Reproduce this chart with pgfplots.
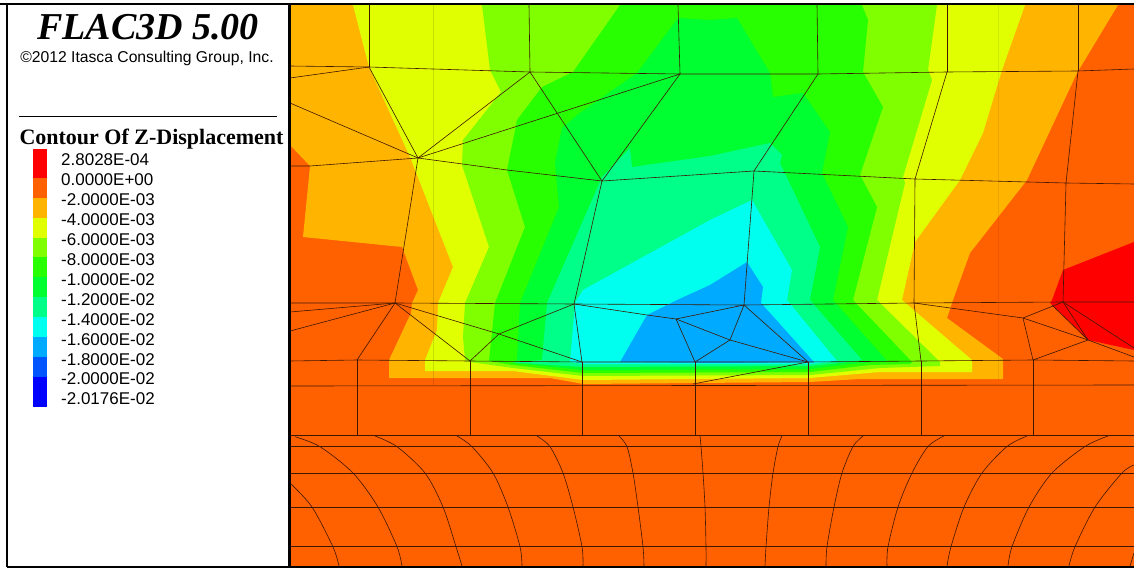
\documentclass[border=0pt]{standalone}
\usepackage{fontspec}
\usepackage{pgfplots}
\pgfplotsset{compat=1.18}
\setmainfont{Liberation Sans}
\newfontfamily\serif{Liberation Serif}
\definecolor{cRed}{HTML}{FF0000}
\definecolor{cOrg}{HTML}{FF6000}
\definecolor{cAmb}{HTML}{FFB400}
\definecolor{cYel}{HTML}{E0FF00}
\definecolor{cLim}{HTML}{80FF00}
\definecolor{cGrA}{HTML}{28FF00}
\definecolor{cGrB}{HTML}{00FF30}
\definecolor{cSpr}{HTML}{00FF88}
\definecolor{cCya}{HTML}{00FFEE}
\definecolor{cSky}{HTML}{00AAFF}
\definecolor{cBlu}{HTML}{0055FF}
\definecolor{cDee}{HTML}{0000FF}
\newcommand\F[2]{\addplot[draw=none,fill=#1,forget plot] coordinates {#2} -- cycle;}
\newcommand\M[1]{\addplot[color=black!75!cOrg,line width=0.6pt,forget plot] coordinates {#1};}
\newcommand\C[1]{\addplot[color=black!75!cOrg,line width=0.6pt,smooth,tension=0.5,forget plot] coordinates {#1};}
\newcommand\K[1]{\addplot[color=black,line width=#1,forget plot]}
\newcommand\LL[2]{\node[anchor=west,inner sep=0pt] at (axis cs:61,#1) {\fontsize{17}{20}\selectfont #2};}
\begin{document}
\begin{tikzpicture}
\begin{axis}[scale only axis,width=1134pt,height=569pt,xmin=0,xmax=1134,ymin=0,ymax=569,y dir=reverse,axis lines=none,clip=true]
% background
\F{white}{(0,0)(1134,0)(1134,569)(0,569)}
\F{cOrg}{(290,5)(1134,5)(1134,566)(290,566)}
% contour bands
\F{cAmb}{(290,5)(1118,5)(1077,73)(1027,180)(970,253)(953,300)(952,303)(947,318)(1003,359)(1003,379)(860,379)(810,382)(583,384)(550,378)(389,378)(389,360)(411,313)(412,303)(418,290)(402,247)(303,237)(310,166)(290,145)}
\F{cYel}{(353,5)(1025,5)(1002,70)(983,133)(960,180)(915,242)(902,300)(972,360)(972,372)(880,372)(810,378)(583,380)(513,371)(425,371)(425,360)(437,330)(438,303)(453,267)(410,157)(369,67)}
\F{cLim}{(482,5)(937,5)(928,70)(932,80)(903,177)(905,183)(877,300)(940,362)(940,366)(880,368)(810,375)(583,376)(513,368)(470,362)(465,360)(463,337)(465,303)(489,247)(462,165)(463,140)(501,92)(490,70)}
\F{cGrA}{(620,5)(862,5)(868,20)(863,72)(883,107)(860,175)(877,207)(853,300)(912,362)(910,364)(870,365)(810,372)(583,373)(513,365)(489,361)(495,303)(525,227)(507,170)(517,120)(542,87)(573,72)}
\F{cGrB}{(678,18)(710,20)(737,18)(770,73)(773,97)(803,93)(830,132)(822,173)(848,227)(833,300)(887,361)(850,364)(810,369)(583,370)(513,363)(517,360)(520,303)(559,207)(555,163)(562,128)(577,115)(637,73)}
\F{cSpr}{(630,148)(632,167)(710,156)(770,143)(782,155)(780,163)(820,247)(810,300)(862,360)(840,363)(810,366)(583,367)(513,362.5)(542,360)(547,303)(602,177)}
\F{cCya}{(583,290)(710,220)(752,200)(792,270)(787,300)(837,361)(810,364)(583,364)(570,362)(575,303)}
\F{cSky}{(620,362)(647,315)(677,300)(710,285)(747,262)(763,287)(761,303)(814,362)(720,363)}
\F{cRed}{(1134,242)(1063,270)(1052,300)(1050,303)(1088,340)(1134,350)}
% faint lines
\addplot[black,opacity=0.12,line width=0.7pt,forget plot] coordinates {(433,5)(433,385)};
\addplot[black,opacity=0.08,line width=0.7pt,forget plot] coordinates {(998,5)(998,380)};
% mesh upper
\M{(290,66)(369,67)(433,69)(530,72)(680,74)(818,74)(947,72)(1078,71)(1134,69)}
\M{(369,5)(369,67)}
\M{(529,5)(530,72)}
\M{(678,5)(680,74)}
\M{(817,5)(818,74)}
\M{(947,5)(947,72)}
\M{(1078,5)(1078,71)}
\M{(290,78)(369,67)}
\M{(290,103)(418,158)}
\M{(369,67)(418,158)}
\M{(530,72)(418,158)}
\M{(680,74)(418,158)}
\M{(530,72)(602,181)}
\M{(680,74)(602,181)}
\M{(290,166)(310,166)(418,158)(507,170)(602,181)(754,171)(915,179)(1066,183)(1134,184)}
\M{(818,74)(754,171)}
\M{(947,72)(915,179)}
\M{(1078,71)(1066,183)}
\M{(418,158)(395,303)}
\M{(602,181)(574,304)}
\M{(754,171)(744,305)}
\M{(915,179)(914,303)}
\M{(1066,183)(1063,302)}
\M{(290,303)(395,303)(574,304)(744,305)(914,303)(1063,302)(1134,302)}
% mesh middle
\M{(290,312)(395,303)}
\M{(290,331)(395,303)}
\M{(395,303)(357,360)}
\M{(395,303)(499,334)(582,362)}
\M{(574,304)(499,334)(470,361)}
\M{(395,303)(470,361)}
\M{(574,304)(582,362)}
\M{(574,304)(647,315)(676,319)(744,305)}
\M{(676,319)(695,362)}
\M{(744,305)(730,340)(695,362)}
\M{(676,319)(730,340)(808,362)}
\M{(744,305)(808,362)}
\M{(808,362)(693,384)}
\M{(290,361)(357,360)(470,361)(582,362)(695,362)(808,362)(921,361)(1033,360)(1134,361)}
\M{(290,386)(1134,385)}
\M{(357,360)(357,435.7)}
\M{(470,361)(470,435.7)}
\M{(582,362)(582,435.7)}
\M{(695,362)(695,435.7)}
\M{(808,362)(808,435.7)}
\M{(921,361)(921,435.7)}
\M{(1033,360)(1033,435.7)}
\M{(914,303)(921,361)}
\M{(914,303)(1023,318)(1063,302)}
\M{(1023,318)(1033,360)}
\M{(1023,318)(1088,340)(1033,360)}
\M{(1063,302)(1088,340)(1134,357)}
\M{(1052,305)(1088,340)}
\M{(1063,302)(1134,348)}
% mesh lower horizontals
\M{(290,435.7)(1134,435.7)}
\M{(290,446.5)(1134,446.5)}
\M{(290,473.5)(1134,473.5)}
\M{(290,507)(1134,507)}
\M{(290,546.5)(1134,546.5)}
% mesh lower curves
\C{(290,483)(312,507)(333,547)(339,566)}
\C{(295,436.7)(320,446.7)(353,473)(378,507)(397,546.7)(402,566)}
\C{(375,436)(397,446.7)(425,473)(443,507)(456,546.7)(462,566)}
\C{(457,436)(472,446.7)(493,473)(508,507)(520,546.7)(522,566)}
\C{(537,436)(550,446.7)(563,473)(573,507)(582,546.7)(583,566)}
\C{(619,436)(627,446.7)(633,473)(638,507)(643,546.7)(644,566)}
\C{(700,436)(701,446.5)(703,473)(705,507)(706,546.7)(706,566)}
\C{(782,436)(778,446.5)(773,473)(769,507)(766,546.7)(765,566)}
\C{(863,436)(853,446.5)(842,473)(834,507)(827,546.7)(826,566)}
\C{(944,436)(928,446.5)(912,473)(898,507)(888,546.7)(887,566)}
\C{(1027,436)(1007,446.5)(982,473)(964,507)(951,546.7)(947,566)}
\C{(1108,436)(1085,446.5)(1052,473)(1029,507)(1012,546.7)(1008,566)}
\C{(1134,465)(1122,473)(1095,507)(1075,546.7)(1069,566)}
\M{(1134,553)(1130,566)}
% frame
\K{2pt} coordinates {(0,4)(1134,4)};
\K{1.5pt} coordinates {(7,4)(7,567)};
\K{2.5pt} coordinates {(289.5,4)(289.5,567)};
\K{1.5pt} coordinates {(7,567)(1134,567)};
% header rule
\K{1.2pt} coordinates {(19,116.5)(277,116.5)};
% colour scale
\F{cRed}{(32.5,149)(47,149)(47,177.7)(32.5,177.7)}
\F{cOrg}{(32.5,177.7)(47,177.7)(47,198.3)(32.5,198.3)}
\F{cAmb}{(32.5,198.3)(47,198.3)(47,218)(32.5,218)}
\F{cYel}{(32.5,218)(47,218)(47,237.7)(32.5,237.7)}
\F{cLim}{(32.5,237.7)(47,237.7)(47,257.3)(32.5,257.3)}
\F{cGrA}{(32.5,257.3)(47,257.3)(47,277.3)(32.5,277.3)}
\F{cGrB}{(32.5,277.3)(47,277.3)(47,297.3)(32.5,297.3)}
\F{cSpr}{(32.5,297.3)(47,297.3)(47,317.3)(32.5,317.3)}
\F{cCya}{(32.5,317.3)(47,317.3)(47,337.3)(32.5,337.3)}
\F{cSky}{(32.5,337.3)(47,337.3)(47,357.3)(32.5,357.3)}
\F{cBlu}{(32.5,357.3)(47,357.3)(47,376.7)(32.5,376.7)}
\F{cDee}{(32.5,376.7)(47,376.7)(47,407.3)(32.5,407.3)}
% text
\node[anchor=center,inner sep=0pt] at (axis cs:148,27) {\fontsize{38}{42}\selectfont\serif\bfseries\itshape FLAC3D 5.00};
\node[anchor=center,inner sep=0pt] at (axis cs:147,58) {\fontsize{15.7}{18}\selectfont ©2012 Itasca Consulting Group, Inc.};
\node[anchor=center,inner sep=0pt] at (axis cs:151.5,139) {\fontsize{22}{25}\selectfont\serif\bfseries Contour Of Z-Displacement};
\LL{159.5}{2.8028E-04}
\LL{180}{0.0000E+00}
\LL{199.8}{-2.0000E-03}
\LL{219.5}{-4.0000E-03}
\LL{239.5}{-6.0000E-03}
\LL{259.5}{-8.0000E-03}
\LL{279.5}{-1.0000E-02}
\LL{299.5}{-1.2000E-02}
\LL{319.2}{-1.4000E-02}
\LL{339.2}{-1.6000E-02}
\LL{359.2}{-1.8000E-02}
\LL{378.5}{-2.0000E-02}
\LL{398.5}{-2.0176E-02}
\end{axis}
\end{tikzpicture}
\end{document}
